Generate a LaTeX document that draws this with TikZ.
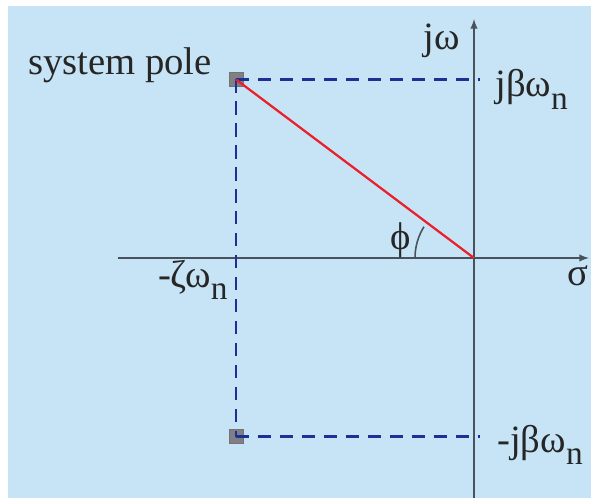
\documentclass[tikz,border=0pt]{standalone}
\usepackage{fontspec}
\setmainfont{Liberation Serif}
\usepackage{xcolor}
\usepackage{tikz}

\definecolor{paneblue}{RGB}{199,228,246}
\definecolor{dashblue}{RGB}{28,48,150}
\definecolor{axisgray}{RGB}{72,82,92}
\definecolor{linered}{RGB}{234,32,44}
\definecolor{polegray}{RGB}{128,128,132}

\newcommand{\lowsub}[1]{\raisebox{-0.32em}{\fontsize{19}{19}\selectfont #1}}

\tikzset{
  lbl/.style={font=\fontsize{22}{26}\selectfont, text=black!85, inner sep=0pt},
  pole/.style={draw=black!55, fill=polegray, minimum size=0.28cm, inner sep=0pt},
  guide/.style={dashblue, line width=1.5pt, dash pattern=on 7.5pt off 5pt}
}

\begin{document}
\begin{tikzpicture}[>=latex]
    \useasboundingbox (-9.48,-4.8) rectangle (2.34,5.16);
    \fill[paneblue] (-9.32,-4.8) rectangle (2.34,5.04);

    % axes
    \coordinate (O) at (0,0);
    \coordinate (sl) at (-7.12,0);
    \coordinate (sr) at (2.3,0);
    \coordinate (wb) at (0,-4.8);
    \coordinate (wt) at (0,4.78);
    \draw[axisgray, line width=0.9pt, ->] (sl) -- (sr);
    \draw[axisgray, line width=0.9pt, ->] (wb) -- (wt);

    % poles
    \node[pole] (up) at (-4.76,3.57) {};
    \node[pole] (dn) at (-4.76,-3.57) {};
    \coordinate (jb) at (0.12,3.57);
    \coordinate (mjb) at (0.12,-3.57);

    \draw[guide] (up.center) -- (dn.center);
    \draw[guide] (up.center) -- (jb);
    \draw[guide] (dn.center) -- (mjb);
    \draw[linered, line width=1.3pt] (up.center) -- (O);
    \draw[axisgray, line width=0.9pt] (180:1.18) arc (180:148:1.18);

    % labels
    \node[lbl, anchor=base east] (syspole) at (-5.24,3.66) {system pole};
    \node[lbl, anchor=base east] (jw) at (-0.28,4.16) {jω};
    \node[lbl, anchor=base west] (jbw) at (0.42,3.22) {jβω\lowsub{n}};
    \node[lbl, anchor=base west] (mjbw) at (0.46,-3.88) {-jβω\lowsub{n}};
    \node[lbl, anchor=base] (sigma) at (2.08,-0.54) {σ};
    \node[lbl, anchor=base east] (zeta) at (-4.92,-0.58) {-ζω\lowsub{n}};
    \node[lbl] (phi) at (-1.46,0.36) {ϕ};
\end{tikzpicture}
\end{document}
